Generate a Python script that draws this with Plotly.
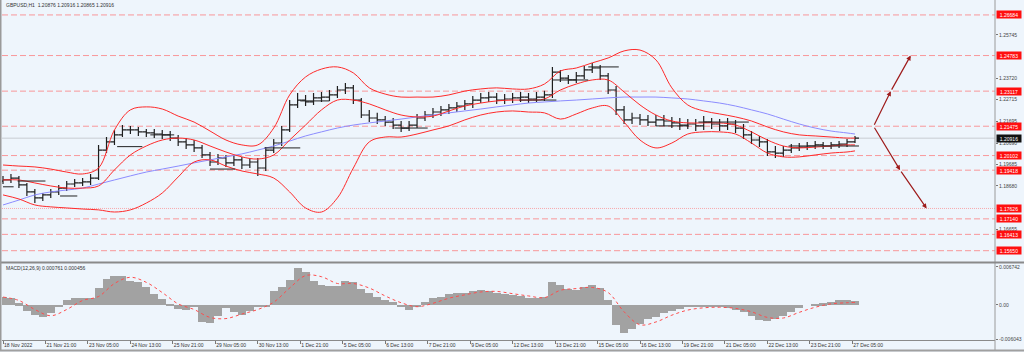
import plotly.graph_objects as go

# ---------------- text ----------------
symbol_title = "GBPUSD,H1  1.20876 1.20916 1.20865 1.20916"
macd_title = "MACD(12,26,9) 0.000761 0.000456"

x_tick_bars = [0, 32, 64, 96, 128, 160, 192, 224, 256, 288, 320, 352, 384, 416, 448, 480, 512, 544, 576, 608, 640]
x_tick_labels = ["18 Nov 2022", "21 Nov 21:00", "23 Nov 05:00", "24 Nov 13:00", "25 Nov 21:00",
                 "29 Nov 05:00", "30 Nov 13:00", "1 Dec 21:00", "5 Dec 05:00", "6 Dec 13:00",
                 "7 Dec 21:00", "9 Dec 05:00", "12 Dec 13:00", "13 Dec 21:00", "15 Dec 05:00",
                 "16 Dec 13:00", "19 Dec 21:00", "21 Dec 05:00", "22 Dec 13:00", "23 Dec 21:00",
                 "27 Dec 05:00"]

price_ticks = [1.25745, 1.23720, 1.22715, 1.21695, 1.20690, 1.19685, 1.18680, 1.16655]
price_tick_text = ["1.25745", "1.23720", "1.22715", "1.21695", "1.20690", "1.19685", "1.18680", "1.16655"]

macd_ticks = [0.006742, 0.0, -0.006043]
macd_tick_text = ["0.006742", "0.00", "-0.006043"]

# ---------------- price bars (6-hour sampling of the H1 chart) ----------------
bar_index = list(range(0, 643, 6))
first_open = 1.1891
close = [1.1896, 1.1905, 1.1873, 1.1840, 1.1812, 1.1826, 1.1840, 1.1858, 1.1877, 1.1882,
         1.1887, 1.1905, 1.2036, 1.2074, 1.2107, 1.2130, 1.2130, 1.2121, 1.2116, 1.2111,
         1.2107, 1.2092, 1.2074, 1.2060, 1.2046, 1.2013, 1.1980, 1.1999, 1.1976, 1.1990,
         1.1966, 1.1980, 1.1952, 1.2036, 1.2069, 1.2130, 1.2247, 1.2270, 1.2261, 1.2280,
         1.2284, 1.2294, 1.2317, 1.2327, 1.2270, 1.2200, 1.2186, 1.2177, 1.2167, 1.2153,
         1.2139, 1.2153, 1.2186, 1.2200, 1.2214, 1.2224, 1.2233, 1.2242, 1.2252, 1.2270,
         1.2280, 1.2284, 1.2270, 1.2275, 1.2280, 1.2284, 1.2275, 1.2284, 1.2294, 1.2401,
         1.2373, 1.2364, 1.2383, 1.2411, 1.2420, 1.2383, 1.2317, 1.2224, 1.2177, 1.2186,
         1.2177, 1.2167, 1.2177, 1.2172, 1.2163, 1.2153, 1.2158, 1.2149, 1.2167, 1.2158,
         1.2149, 1.2158, 1.2139, 1.2107, 1.2083, 1.2074, 1.2027, 1.2022, 1.2036, 1.2046,
         1.2050, 1.2055, 1.2060, 1.2055, 1.2060, 1.2064, 1.2074, 1.20916]
high = [1.1915, 1.1924, 1.1915, 1.1882, 1.1854, 1.1835, 1.1854, 1.1873, 1.1891, 1.1901,
        1.1905, 1.1924, 1.2060, 1.2097, 1.2130, 1.2153, 1.2149, 1.2144, 1.2135, 1.2135,
        1.2130, 1.2125, 1.2107, 1.2092, 1.2083, 1.2060, 1.2027, 1.2018, 1.2013, 1.2013,
        1.2004, 1.1999, 1.1999, 1.2050, 1.2088, 1.2149, 1.2270, 1.2303, 1.2294, 1.2303,
        1.2308, 1.2317, 1.2336, 1.2350, 1.2341, 1.2280, 1.2224, 1.2210, 1.2195, 1.2186,
        1.2172, 1.2172, 1.2205, 1.2219, 1.2233, 1.2242, 1.2252, 1.2261, 1.2270, 1.2289,
        1.2303, 1.2308, 1.2303, 1.2298, 1.2303, 1.2308, 1.2303, 1.2308, 1.2313, 1.2425,
        1.2411, 1.2387, 1.2401, 1.2429, 1.2443, 1.2434, 1.2397, 1.2336, 1.2242, 1.2210,
        1.2205, 1.2200, 1.2200, 1.2200, 1.2191, 1.2186, 1.2181, 1.2181, 1.2195, 1.2186,
        1.2181, 1.2186, 1.2177, 1.2158, 1.2125, 1.2102, 1.2088, 1.2055, 1.2055, 1.2064,
        1.2069, 1.2074, 1.2078, 1.2074, 1.2074, 1.2078, 1.2088, 1.2102]
low = [1.1877, 1.1882, 1.1858, 1.1821, 1.1788, 1.1798, 1.1812, 1.1826, 1.1844, 1.1863,
       1.1868, 1.1873, 1.1896, 1.2022, 1.2060, 1.2097, 1.2111, 1.2102, 1.2097, 1.2092,
       1.2088, 1.2078, 1.2055, 1.2041, 1.2027, 1.1999, 1.1961, 1.1966, 1.1957, 1.1961,
       1.1947, 1.1952, 1.1915, 1.1938, 1.2022, 1.2055, 1.2121, 1.2233, 1.2242, 1.2247,
       1.2261, 1.2266, 1.2280, 1.2298, 1.2252, 1.2186, 1.2167, 1.2158, 1.2149, 1.2135,
       1.2121, 1.2125, 1.2139, 1.2172, 1.2186, 1.2195, 1.2205, 1.2214, 1.2224, 1.2233,
       1.2256, 1.2261, 1.2252, 1.2252, 1.2256, 1.2261, 1.2256, 1.2261, 1.2266, 1.2280,
       1.2355, 1.2345, 1.2350, 1.2369, 1.2397, 1.2364, 1.2298, 1.2200, 1.2158, 1.2158,
       1.2153, 1.2149, 1.2149, 1.2149, 1.2139, 1.2130, 1.2135, 1.2125, 1.2130, 1.2135,
       1.2125, 1.2130, 1.2116, 1.2088, 1.2064, 1.2050, 1.2008, 1.1999, 1.2004, 1.2022,
       1.2032, 1.2036, 1.2041, 1.2041, 1.2041, 1.2046, 1.2050, 1.2069]
open_ = [first_open] + close[:-1]

# ---------------- indicators (12-bar sampling) ----------------
band_x = list(range(0, 637, 12)) + [642]
bb_upper = [1.1966, 1.1961, 1.1957, 1.1947, 1.1933, 1.1924, 1.1952, 1.2130, 1.2224, 1.2238,
            1.2228, 1.2195, 1.2167, 1.2125, 1.2083, 1.2060, 1.2060, 1.2139, 1.2294, 1.2378,
            1.2415, 1.2425, 1.2397, 1.2327, 1.2298, 1.2284, 1.2284, 1.2284, 1.2294, 1.2312,
            1.2322, 1.2327, 1.2322, 1.2322, 1.2345, 1.2406, 1.2420, 1.2444, 1.2467, 1.2500,
            1.2504, 1.2458, 1.2327, 1.2247, 1.2219, 1.2205, 1.2191, 1.2172, 1.2144, 1.2121,
            1.2107, 1.2102, 1.2097, 1.2092, 1.2092]
bb_middle = [1.1896, 1.1896, 1.1882, 1.1868, 1.1858, 1.1858, 1.1868, 1.1943, 1.2013, 1.2055,
             1.2083, 1.2092, 1.2083, 1.2055, 1.2027, 1.2004, 1.1994, 1.2013, 1.2083, 1.2153,
             1.2224, 1.2270, 1.2270, 1.2252, 1.2224, 1.2200, 1.2191, 1.2195, 1.2219, 1.2242,
             1.2256, 1.2266, 1.2270, 1.2270, 1.2275, 1.2317, 1.2345, 1.2364, 1.2364, 1.2308,
             1.2247, 1.2200, 1.2172, 1.2163, 1.2163, 1.2163, 1.2153, 1.2121, 1.2083, 1.2055,
             1.2046, 1.2050, 1.2055, 1.2060, 1.2060]
bb_lower = [1.1826, 1.1807, 1.1779, 1.1770, 1.1765, 1.1760, 1.1756, 1.1746, 1.1756, 1.1788,
            1.1835, 1.1910, 1.1980, 1.1990, 1.1961, 1.1938, 1.1924, 1.1905, 1.1840, 1.1765,
            1.1746, 1.1812, 1.1952, 1.2074, 1.2097, 1.2097, 1.2111, 1.2130, 1.2149, 1.2177,
            1.2200, 1.2214, 1.2219, 1.2214, 1.2210, 1.2181, 1.2205, 1.2233, 1.2242, 1.2167,
            1.2083, 1.2046, 1.2069, 1.2111, 1.2121, 1.2121, 1.2111, 1.2069, 1.2022, 1.2004,
            1.2004, 1.2013, 1.2022, 1.2027, 1.2032]
ma_slow = [1.1779, 1.1802, 1.1826, 1.1840, 1.1849, 1.1858, 1.1877, 1.1896, 1.1915, 1.1933,
           1.1947, 1.1961, 1.1976, 1.1990, 1.2004, 1.2018, 1.2036, 1.2055, 1.2078, 1.2102,
           1.2121, 1.2139, 1.2153, 1.2163, 1.2172, 1.2181, 1.2191, 1.2200, 1.2210, 1.2219,
           1.2228, 1.2238, 1.2247, 1.2256, 1.2261, 1.2266, 1.2270, 1.2275, 1.2280, 1.2284,
           1.2284, 1.2284, 1.2280, 1.2275, 1.2266, 1.2256, 1.2242, 1.2224, 1.2205, 1.2181,
           1.2158, 1.2139, 1.2125, 1.2116, 1.2111]

# MACD histogram (same sampling as bars) and signal (band sampling)
macd_hist = [0.0015, 0.0013, 0.0003, -0.0010, -0.0017, -0.0021, -0.0015, -0.0002, 0.0008, 0.0012,
             0.0013, 0.0012, 0.0030, 0.0046, 0.0051, 0.0052, 0.0043, 0.0041, 0.0031, 0.0019,
             0.0010, 0.0001, -0.0007, -0.0008, -0.0004, -0.0030, -0.0031, -0.0019, -0.0006, -0.0012,
             -0.0017, -0.0010, -0.0003, -0.0004, 0.0025, 0.0032, 0.0045, 0.0065, 0.0058, 0.0042,
             0.0036, 0.0034, 0.0033, 0.0042, 0.0040, 0.0028, 0.0022, 0.0014, 0.0009, 0.0006,
             -0.0004, -0.0009, -0.0002, 0.0006, 0.0012, 0.0015, 0.0019, 0.0021, 0.0022, 0.0024,
             0.0026, 0.0025, 0.0022, 0.0019, 0.0017, 0.0016, 0.0013, 0.0012, 0.0015, 0.0040,
             0.0035, 0.0028, 0.0027, 0.0032, 0.0035, 0.0030, 0.0008, -0.0035, -0.0050, -0.0043,
             -0.0034, -0.0025, -0.0021, -0.0015, -0.0011, -0.0007, -0.0004, -0.0003, -0.0002, -0.0004,
             -0.0004, -0.0006, -0.0009, -0.0012, -0.0020, -0.0027, -0.0028, -0.0024, -0.0020, -0.0012,
             -0.0006, 0.0000, 0.0002, 0.0003, 0.0005, 0.0008, 0.0009, 0.00076]
macd_signal = [0.0014, 0.0008, -0.0008, -0.0019, -0.0008, 0.0008, 0.0015, 0.0038, 0.0049, 0.0040,
               0.0022, 0.0002, -0.0008, -0.0022, -0.0024, -0.0016, -0.0008, 0.0005, 0.0030, 0.0052,
               0.0050, 0.0038, 0.0038, 0.0030, 0.0016, 0.0004, -0.0003, 0.0003, 0.0012, 0.0018,
               0.0023, 0.0024, 0.0020, 0.0016, 0.0013, 0.0026, 0.0029, 0.0031, 0.0022, -0.0012,
               -0.0035, -0.0030, -0.0018, -0.0009, -0.0005, -0.0004, -0.0006, -0.0012, -0.0022, -0.0023,
               -0.0013, -0.0004, 0.0002, 0.0004, 0.00046]

# ---------------- drawn objects ----------------
seg_start = [0, 11, 43, 86, 111, 156, 197, 224, 295, 389, 414, 441, 492, 524, 592]
seg_end = [8, 32, 56, 105, 129, 175, 224, 246, 320, 417, 441, 464, 517, 562, 645]
seg_price = [1.1864, 1.1891, 1.1821, 1.2052, 1.2107, 1.1947, 1.2046, 1.2266, 1.2139, 1.2270,
             1.2364, 1.2425, 1.2149, 1.2167, 1.2055]

levels = [1.26684, 1.24783, 1.23117, 1.21475, 1.20102, 1.19418, 1.17626, 1.17140, 1.16413, 1.15650]
level_text = ["1.26684", "1.24783", "1.23117", "1.21475", "1.20102", "1.19418", "1.17626", "1.17140", "1.16413", "1.15650"]
level_dotted = [False, False, False, False, False, False, True, False, False, False]

current_price = 1.20916
current_text = "1.20916"

arrow_up_bars = [656, 669, 684]
arrow_up_prices = [1.21475, 1.23117, 1.24783]
arrow_dn_bars = [656, 676, 696]
arrow_dn_prices = [1.21475, 1.19418, 1.17626]

# ---------------- figure ----------------
BG = "#EEF5FC"
RED = "#ff2a2a"
fig = go.Figure()

fig.add_trace(go.Scatter(x=band_x, y=ma_slow, xaxis="x2", yaxis="y", mode="lines",
                         line=dict(color="#8c8cff", width=1, shape="spline"), hoverinfo="skip"))
for band in (bb_upper, bb_middle, bb_lower):
    fig.add_trace(go.Scatter(x=band_x, y=band, xaxis="x2", yaxis="y", mode="lines",
                             line=dict(color=RED, width=1, shape="spline"), hoverinfo="skip"))

sx, sy = [], []
for a, b, p in zip(seg_start, seg_end, seg_price):
    sx += [a, b, None]
    sy += [p, p, None]
fig.add_trace(go.Scatter(x=sx, y=sy, xaxis="x2", yaxis="y", mode="lines",
                         line=dict(color="#222222", width=1), hoverinfo="skip"))

fig.add_trace(go.Ohlc(x=bar_index, open=open_, high=high, low=low, close=close,
                      xaxis="x2", yaxis="y", tickwidth=0.5,
                      increasing=dict(line=dict(color="#1e1e1e", width=1.2)),
                      decreasing=dict(line=dict(color="#1e1e1e", width=1.2)),
                      hoverinfo="skip"))

fig.add_trace(go.Bar(x=bar_index, y=macd_hist, xaxis="x", yaxis="y2", width=6,
                     marker=dict(color="#8e8e8e", line=dict(width=0),
                                 pattern=dict(shape="|", size=2, solidity=0.55,
                                              fgcolor="#6f6f6f", bgcolor="#b4b4b4")),
                     hoverinfo="skip"))
fig.add_trace(go.Scatter(x=band_x, y=macd_signal, xaxis="x", yaxis="y2", mode="lines",
                         line=dict(color="#ff4d4d", width=1, dash="dot", shape="spline"),
                         hoverinfo="skip"))

shapes = []
for lv, dotted in zip(levels, level_dotted):
    shapes.append(dict(type="line", xref="paper", x0=0, x1=1, yref="y", y0=lv, y1=lv,
                       line=dict(color="rgba(255,110,110,0.55)" if dotted else "rgba(255,90,90,0.6)",
                                 width=1, dash="1px,1px" if dotted else "6px,3px"), layer="below"))
shapes.append(dict(type="line", xref="paper", x0=0, x1=1, yref="y", y0=current_price, y1=current_price,
                   line=dict(color="#c8ccd2", width=1), layer="below"))
# frame lines
shapes.append(dict(type="line", xref="paper", yref="paper", x0=1, x1=1, y0=-0.03, y1=1.01,
                   line=dict(color="#9a9a9a", width=1)))
shapes.append(dict(type="line", xref="paper", yref="paper", x0=-0.01, x1=1.03, y0=0.2290, y1=0.2290,
                   line=dict(color="#8a8a8a", width=2)))
shapes.append(dict(type="line", xref="paper", yref="paper", x0=-0.0015, x1=-0.0015, y0=-0.03, y1=1.01,
                   line=dict(color="#9a9a9a", width=2)))
shapes.append(dict(type="line", xref="paper", yref="paper", x0=-0.01, x1=1.03, y0=-0.031, y1=-0.031,
                   line=dict(color="#a0a0a0", width=2)))

annotations = []
for lv, txt in zip(levels, level_text):
    annotations.append(dict(xref="paper", x=1, xanchor="left", xshift=1, yref="y", y=lv,
                            yanchor="middle", text=txt, showarrow=False, bgcolor="#ff0f0f",
                            font=dict(color="white", size=5), width=24, height=7, borderpad=0))
annotations.append(dict(xref="paper", x=1, xanchor="left", xshift=1, yref="y", y=current_price,
                        yanchor="middle", text=current_text, showarrow=False, bgcolor="#111111",
                        font=dict(color="white", size=5), width=24, height=7, borderpad=0))
annotations.append(dict(xref="paper", x=0, xanchor="left", xshift=2, yref="paper", y=0.991,
                        yanchor="middle", text=symbol_title, showarrow=False,
                        font=dict(color="#333333", size=5)))
annotations.append(dict(xref="paper", x=0, xanchor="left", xshift=2, yref="paper", y=0.213,
                        yanchor="middle", text=macd_title, showarrow=False,
                        font=dict(color="#333333", size=5)))

for bars, prices in ((arrow_up_bars, arrow_up_prices), (arrow_dn_bars, arrow_dn_prices)):
    for i in range(1, len(bars)):
        annotations.append(dict(xref="x2", yref="y", axref="x2", ayref="y",
                                x=bars[i], y=prices[i], ax=bars[i - 1], ay=prices[i - 1],
                                text="", showarrow=True, arrowhead=2, arrowsize=0.8,
                                arrowwidth=1.2, arrowcolor="#9e1b1b"))

fig.update_layout(
    width=1024, height=352, margin=dict(l=2, r=27, t=2, b=12),
    paper_bgcolor=BG, plot_bgcolor=BG, showlegend=False, bargap=0,
    font=dict(family="Liberation Sans, Arial, sans-serif", size=5, color="#333333"),
    xaxis=dict(domain=[0, 1], anchor="y2", range=[-0.75, 747.5], tickvals=x_tick_bars,
               ticktext=x_tick_labels, ticks="outside", ticklen=3, tickcolor="#777777",
               ticklabelposition="outside right", showgrid=False, zeroline=False,
               showline=True, linecolor="#8a8a8a", linewidth=1, rangeslider=dict(visible=False),
               tickfont=dict(size=5, color="#333333")),
    xaxis2=dict(domain=[0, 1], anchor="y", matches="x", showticklabels=False, ticks="",
                showgrid=False, zeroline=False, rangeslider=dict(visible=False)),
    yaxis=dict(domain=[0.2308, 1], anchor="x2", side="right", range=[1.15121, 1.27289],
               tickvals=price_ticks, ticktext=price_tick_text, ticks="outside", ticklen=2,
               tickcolor="#777777", showgrid=False, zeroline=False, showline=False,
               tickfont=dict(size=5, color="#444444")),
    yaxis2=dict(domain=[0, 0.2249], anchor="x", side="right", range=[-0.00619, 0.00725],
                tickvals=macd_ticks, ticktext=macd_tick_text, ticks="outside", ticklen=2,
                tickcolor="#777777", showgrid=False, zeroline=False, showline=False,
                tickfont=dict(size=5, color="#444444")),
    shapes=shapes, annotations=annotations,
)

fig.write_html("out.html")
